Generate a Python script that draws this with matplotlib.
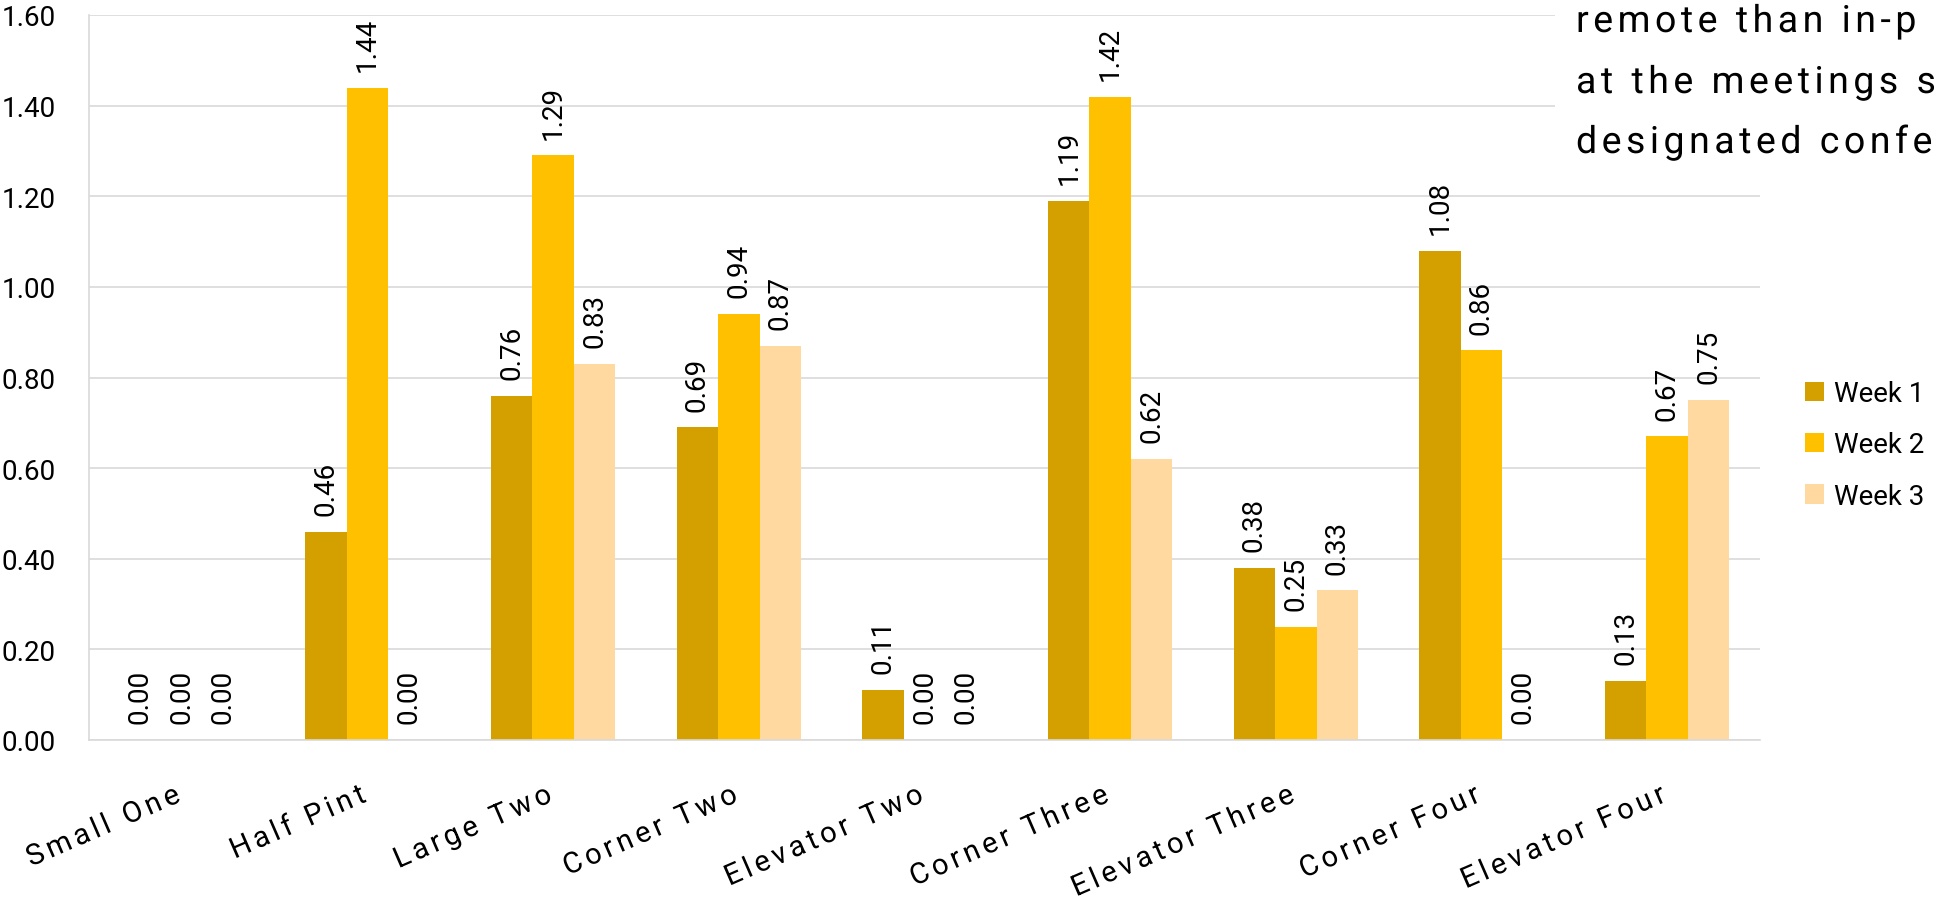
#!/usr/bin/env python3
"""Grouped bar chart of the weekly values for every meeting room"""

import numpy as np
from matplotlib import pyplot as plt
from matplotlib.patches import Rectangle
from matplotlib.path import Path
from matplotlib.patheffects import AbstractPathEffect
from matplotlib.textpath import TextToPath

rooms = ['Small One', 'Half Pint', 'Large Two', 'Corner Two', 'Elevator Two',
         'Corner Three', 'Elevator Three', 'Corner Four', 'Elevator Four']
weeks = ['Week 1', 'Week 2', 'Week 3']
week_1 = [0.00, 0.46, 0.76, 0.69, 0.11, 1.19, 0.38, 1.08, 0.13]
week_2 = [0.00, 1.44, 1.29, 0.94, 0.00, 1.42, 0.25, 0.86, 0.67]
week_3 = [0.00, 0.00, 0.83, 0.87, 0.00, 0.62, 0.33, 0.00, 0.75]
y_ticks = [0.0, 0.2, 0.4, 0.6, 0.8, 1.0, 1.2, 1.4, 1.6]
note_lines = ['remote than in-p', 'at the meetings s', 'designated confe']

colours = ['#D4A000', '#FFC000', '#FFD9A0']
grid_colour = '#D9D9D9'

W, H = 1936, 904


class Tracking(AbstractPathEffect):
    """Letter spacing for a text (the original font is spaced out)

    Args:
        text (str) - the string that is drawn
        prop (FontProperties) - the font of the text
        spacing (float) - extra space after every character, in em
        right (bool) - keep the right end of the text in place
    """

    def __init__(self, text, prop, spacing, right=False):
        super().__init__()
        to_path = TextToPath()
        # right ink edge of every prefix, in the units of the text path
        edges = []
        for i in range(1, len(text)):
            verts, _ = to_path.get_text_path(prop, text[:i])
            verts = np.asarray(verts, dtype=float).reshape(-1, 2)
            edges.append(verts[:, 0].max() if len(verts) else 0.0)
        self._edges = np.array(edges)
        self._step = spacing * TextToPath.FONT_SCALE
        self._shift = len(edges) * self._step if right else 0.0

    def draw_path(self, renderer, gc, tpath, affine, rgbFace=None):
        verts = tpath.vertices.copy()
        codes = tpath.codes
        if codes is None or not len(verts):
            renderer.draw_path(gc, tpath, affine, rgbFace)
            return
        real = codes != Path.CLOSEPOLY
        starts = list(np.flatnonzero(codes == Path.MOVETO)) + [len(verts)]
        for beg, end in zip(starts[:-1], starts[1:]):
            xs = verts[beg:end, 0][real[beg:end]]
            if not len(xs):
                continue
            index = np.sum(self._edges < (xs.min() + xs.max()) / 2)
            verts[beg:end, 0] += index * self._step
        verts[:, 0] -= self._shift
        renderer.draw_path(gc, Path(verts, codes), affine, rgbFace)


def _spread(text, spacing, right=False):
    """Give a text artist the letter spacing of the original"""
    text.set_path_effects([Tracking(text.get_text(), text.get_fontproperties(),
                                    spacing, right)])


def main():
    plt.rcParams['font.family'] = ['Roboto', 'DejaVu Sans']

    fig = plt.figure(figsize=(W / 100, H / 100), dpi=100)
    ax = fig.add_axes([89 / W, 1 - 741 / H, (1760 - 89) / W, (741 - 16) / H])

    x = np.arange(len(rooms))
    width = 0.223
    containers = []
    for i, (values, colour) in enumerate(zip([week_1, week_2, week_3], colours)):
        bars = ax.bar(x + (i - 1) * width, values, width, color=colour,
                      edgecolor='none', zorder=2)
        ax.bar_label(bars, fmt='%.2f', rotation=90, padding=12, fontsize=20)
        containers.append(bars)

    ax.set_xlim(-0.5, len(rooms) - 0.5)
    ax.set_ylim(0, 1.6)
    ax.set_yticks(y_ticks, [f'{v:.2f}' for v in y_ticks], fontsize=20)
    ax.set_xticks(x, rooms, rotation=23.5, ha='right', va='baseline',
                  rotation_mode='anchor', fontsize=21)
    for label in ax.get_xticklabels():
        _spread(label, 0.14, right=True)
    ax.tick_params(axis='y', length=0, pad=24)
    ax.tick_params(axis='x', length=0, pad=44)

    ax.yaxis.grid(True, color=grid_colour, linewidth=1.2)
    ax.set_axisbelow(True)
    for side in ('top', 'right'):
        ax.spines[side].set_visible(False)
    for side in ('left', 'bottom'):
        ax.spines[side].set_color(grid_colour)
        ax.spines[side].set_linewidth(1.2)

    fig.legend(containers, weeks, loc='upper left',
               bbox_to_anchor=(1805 / W, 1 - 381 / H), frameon=False,
               fontsize=20, handlelength=0.7, handleheight=0.7,
               handletextpad=0.33, labelspacing=0.88, borderpad=0,
               borderaxespad=0)

    # text box of the slide that covers the upper right corner
    fig.add_artist(Rectangle((1555 / W, 1 - 170 / H), 1, 170 / H,
                             transform=fig.transFigure, facecolor='white',
                             edgecolor='none', zorder=3))
    for line, base in zip(note_lines, [33, 94, 154]):
        note = fig.text(1576 / W, 1 - base / H, line, va='baseline',
                        fontsize=27, zorder=4)
        _spread(note, 0.12)

    fig.savefig('out.png', dpi=100)
    plt.close(fig)


if __name__ == '__main__':
    main()
